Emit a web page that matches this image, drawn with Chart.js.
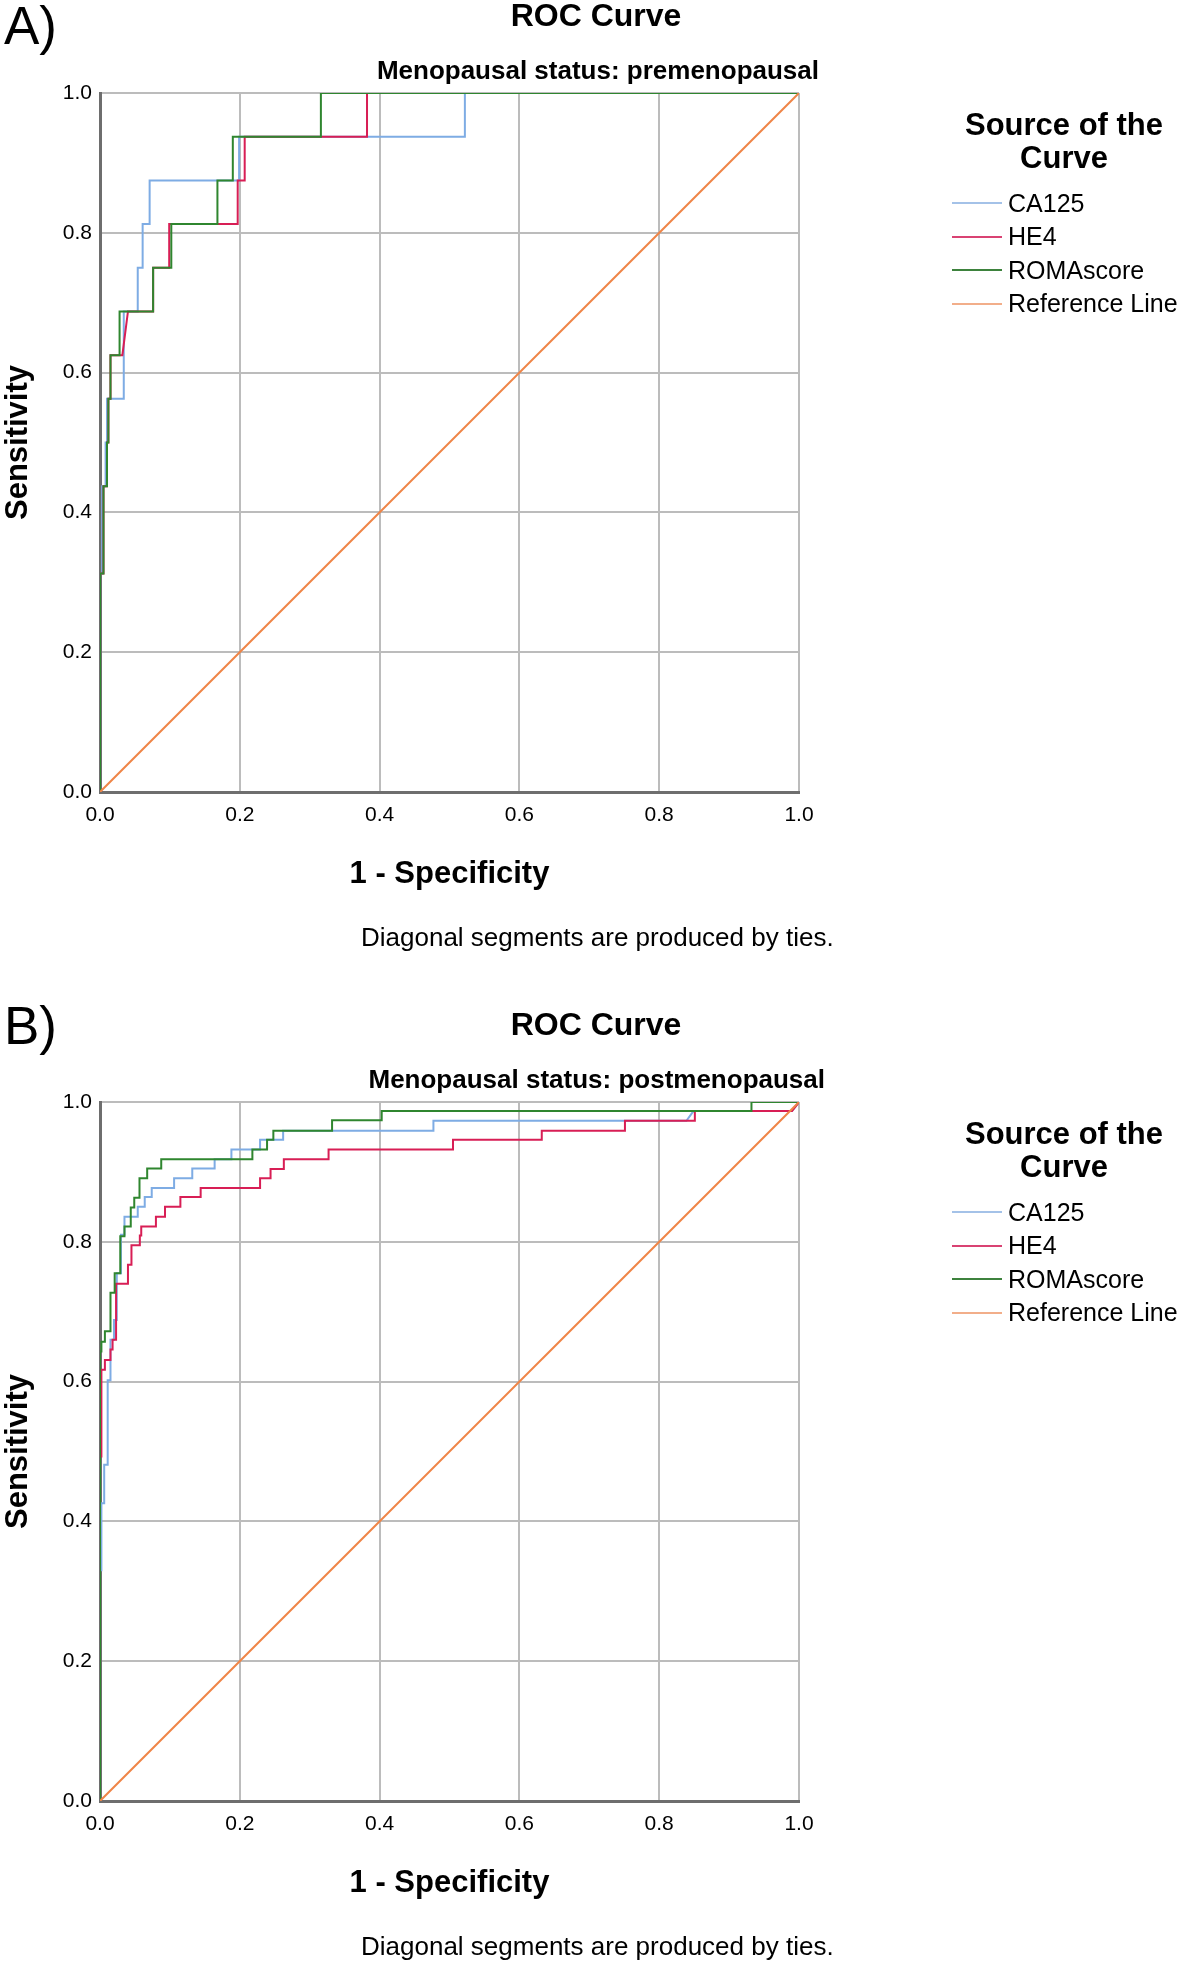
<!DOCTYPE html>
<html>
<head>
<meta charset="utf-8">
<script src="https://cdn.jsdelivr.net/npm/chart.js@4.4.1/dist/chart.umd.min.js"></script>
<style>
    body { margin: 0; background: #fff; }
    #page { position: relative; width: 1180px; height: 1965px; overflow: hidden; font-family: "Liberation Sans", Arial, sans-serif; color: #000; }
    .txt { position: absolute; white-space: nowrap; line-height: 1; }
    .bold { font-weight: bold; }
    .swatch { position: absolute; height: 2px; }
    canvas { position: absolute; left: 0; }
</style>
</head>
<body>
<div id="page">
    <canvas id="chartA" width="1180" height="1010" style="top:0px"></canvas>
    <canvas id="chartB" width="1180" height="956" style="top:1009px"></canvas>
</div>
<script>
// Series names and tick labels
const seriesNames = ['CA125', 'HE4', 'ROMAscore', 'Reference Line'];
const tickValues = [0, 0.2, 0.4, 0.6, 0.8, 1.0];
const tickLabels = ['0.0', '0.2', '0.4', '0.6', '0.8', '1.0'];

// Panel A - premenopausal (x = 1 - specificity, y = sensitivity)
const preCA125X = [0, 0, 0.003, 0.003, 0.008, 0.008, 0.010, 0.010, 0.034, 0.034, 0.054, 0.054, 0.061, 0.061, 0.071, 0.071, 0.199, 0.199, 0.522, 0.522, 1];
const preCA125Y = [0, 0.3125, 0.3125, 0.4375, 0.4375, 0.5, 0.5, 0.5625, 0.5625, 0.6875, 0.6875, 0.75, 0.75, 0.8125, 0.8125, 0.875, 0.875, 0.9375, 0.9375, 1, 1];
const preHE4X = [0, 0, 0.005, 0.005, 0.010, 0.010, 0.012, 0.012, 0.015, 0.015, 0.032, 0.040, 0.076, 0.076, 0.099, 0.099, 0.197, 0.197, 0.207, 0.207, 0.382, 0.382, 1];
const preHE4Y = [0, 0.3125, 0.3125, 0.4375, 0.4375, 0.5, 0.5, 0.5625, 0.5625, 0.625, 0.625, 0.6875, 0.6875, 0.75, 0.75, 0.8125, 0.8125, 0.875, 0.875, 0.9375, 0.9375, 1, 1];
const preROMAX = [0, 0, 0.005, 0.005, 0.010, 0.010, 0.012, 0.012, 0.015, 0.015, 0.028, 0.028, 0.076, 0.076, 0.102, 0.102, 0.168, 0.168, 0.190, 0.190, 0.316, 0.316, 1];
const preROMAY = [0, 0.3125, 0.3125, 0.4375, 0.4375, 0.5, 0.5, 0.5625, 0.5625, 0.625, 0.625, 0.6875, 0.6875, 0.75, 0.75, 0.8125, 0.8125, 0.875, 0.875, 0.9375, 0.9375, 1, 1];

// Panel B - postmenopausal
const postCA125X = [0, 0, 0.002, 0.002, 0.006, 0.006, 0.011, 0.011, 0.015, 0.015, 0.020, 0.020, 0.024, 0.024, 0.030, 0.030, 0.035, 0.035, 0.054, 0.054, 0.064, 0.064, 0.074, 0.074, 0.106, 0.106, 0.132, 0.132, 0.164, 0.164, 0.188, 0.188, 0.229, 0.229, 0.262, 0.262, 0.477, 0.477, 0.839, 0.849, 0.990, 1];
const postCA125Y = [0, 0.330, 0.330, 0.426, 0.426, 0.481, 0.481, 0.602, 0.602, 0.660, 0.660, 0.688, 0.688, 0.755, 0.755, 0.810, 0.810, 0.836, 0.836, 0.850, 0.850, 0.864, 0.864, 0.877, 0.877, 0.891, 0.891, 0.905, 0.905, 0.918, 0.918, 0.932, 0.932, 0.946, 0.946, 0.959, 0.959, 0.973, 0.973, 0.987, 0.987, 1];
const postHE4X = [0, 0, 0.002, 0.002, 0.007, 0.007, 0.015, 0.015, 0.018, 0.018, 0.023, 0.023, 0.040, 0.040, 0.045, 0.045, 0.057, 0.057, 0.059, 0.059, 0.080, 0.080, 0.093, 0.093, 0.115, 0.115, 0.144, 0.144, 0.229, 0.229, 0.244, 0.244, 0.263, 0.263, 0.327, 0.327, 0.505, 0.505, 0.632, 0.632, 0.751, 0.751, 0.851, 0.851, 0.990, 1];
const postHE4Y = [0, 0.493, 0.493, 0.617, 0.617, 0.631, 0.631, 0.646, 0.646, 0.660, 0.660, 0.740, 0.740, 0.767, 0.767, 0.795, 0.795, 0.809, 0.809, 0.822, 0.822, 0.836, 0.836, 0.850, 0.850, 0.864, 0.864, 0.877, 0.877, 0.891, 0.891, 0.904, 0.904, 0.918, 0.918, 0.932, 0.932, 0.946, 0.946, 0.959, 0.959, 0.973, 0.973, 0.987, 0.987, 1];
const postROMAX = [0, 0, 0.002, 0.002, 0.007, 0.007, 0.015, 0.015, 0.021, 0.021, 0.029, 0.029, 0.035, 0.035, 0.044, 0.044, 0.049, 0.049, 0.0565, 0.0565, 0.0675, 0.0675, 0.0876, 0.0876, 0.218, 0.218, 0.239, 0.239, 0.248, 0.248, 0.332, 0.332, 0.403, 0.403, 0.932, 0.932, 1];
const postROMAY = [0, 0.643, 0.643, 0.657, 0.657, 0.672, 0.672, 0.727, 0.727, 0.755, 0.755, 0.808, 0.808, 0.822, 0.822, 0.849, 0.849, 0.863, 0.863, 0.891, 0.891, 0.905, 0.905, 0.918, 0.918, 0.932, 0.932, 0.946, 0.946, 0.959, 0.959, 0.974, 0.974, 0.987, 0.987, 1, 1];

// Reference diagonal
const refX = [0, 1];
const refY = [0, 1];

const colors = ['#7eacE4', '#d81e55', '#2f862f', '#ef8547'];
const legendColors = ['#a4c2e8', '#d94373', '#3d823d', '#f2ae8a'];

// x axis box height (tick labels + title)
const xAxisHeight = 101;

// Turn x/y arrays into points
const toPoints = (xs, ys) => xs.map((x, i) => ({ x: x, y: ys[i] }));

const makeChart = (canvasId, curves) => {
    const canvas = document.getElementById(canvasId);
    const datasets = curves.map((c, i) => ({
        label: seriesNames[i],
        data: toPoints(c[0], c[1]),
        borderColor: colors[i],
        borderWidth: 2,
        pointRadius: 0,
        tension: 0,
        fill: false,
        // green on top of red on top of blue, diagonal above all
        order: [3, 2, 1, 0][i]
    }));

    return new Chart(canvas.getContext('2d'), {
        type: 'line',
        data: { datasets: datasets },
        options: {
            responsive: false,
            animation: false,
            layout: { padding: { left: 0, top: 93, right: 381, bottom: canvas.height - 792 - xAxisHeight } },
            plugins: { legend: { display: false }, tooltip: { enabled: false } },
            scales: {
                x: {
                    type: 'linear', min: 0, max: 1,
                    afterBuildTicks: (s) => { s.ticks = tickValues.map(v => ({ value: v })); },
                    ticks: { callback: (v) => tickLabels[tickValues.indexOf(v)] ?? v.toFixed(1), font: { size: 21 }, color: '#000', padding: 11, maxRotation: 0 },
                    grid: { color: '#bcbcbc', lineWidth: 2, drawTicks: false },
                    border: { color: '#6e6e6e', width: 3 },
                    title: { display: true, text: '1 - Specificity', font: { size: 31, weight: 'bold' }, color: '#000', padding: 0 },
                    afterFit: (s) => { s.height = xAxisHeight; }
                },
                y: {
                    type: 'linear', min: 0, max: 1,
                    afterBuildTicks: (s) => { s.ticks = tickValues.map(v => ({ value: v })); },
                    ticks: { callback: (v) => tickLabels[tickValues.indexOf(v)] ?? v.toFixed(1), font: { size: 21 }, color: '#000', padding: 8 },
                    grid: { color: '#bcbcbc', lineWidth: 2, drawTicks: false },
                    border: { color: '#6e6e6e', width: 3 },
                    title: { display: true, text: 'Sensitivity', font: { size: 31, weight: 'bold' }, color: '#000', padding: 0 },
                    afterFit: (s) => { s.width = 100; }
                }
            }
        }
    });
};

Chart.defaults.font.family = '"Liberation Sans", Arial, sans-serif';

makeChart('chartA', [[preCA125X, preCA125Y], [preHE4X, preHE4Y], [preROMAX, preROMAY], [refX, refY]]);
makeChart('chartB', [[postCA125X, postCA125Y], [postHE4X, postHE4Y], [postROMAX, postROMAY], [refX, refY]]);

// Titles, legend and notes as page text
const page = document.getElementById('page');
const addText = (text, css, bold) => {
    const d = document.createElement('div');
    d.className = 'txt' + (bold ? ' bold' : '');
    d.textContent = text;
    Object.assign(d.style, css);
    page.appendChild(d);
    return d;
};

const addPanelText = (letter, letterTop, subtitle, subRight, off) => {
    addText(letter, { left: '4px', top: letterTop + 'px', fontSize: '53px' });
    addText('ROC Curve', { left: '596px', top: (off - 1) + 'px', fontSize: '32px', transform: 'translateX(-50%)' }, true);
    addText(subtitle, { right: (1180 - subRight) + 'px', top: (off + 57) + 'px', fontSize: '26px' }, true);
    addText('Source of the', { left: '1064px', top: (off + 109) + 'px', fontSize: '31px', transform: 'translateX(-50%)' }, true);
    addText('Curve', { left: '1064px', top: (off + 142) + 'px', fontSize: '31px', transform: 'translateX(-50%)' }, true);
    seriesNames.forEach((name, i) => {
        const cy = off + 203 + i * 33.5;
        const sw = document.createElement('div');
        sw.className = 'swatch';
        Object.assign(sw.style, { left: '952px', width: '50px', top: (cy - 1) + 'px', background: legendColors[i] });
        page.appendChild(sw);
        addText(name, { left: '1008px', top: (cy - 12.5) + 'px', fontSize: '25px' });
    });
    addText('Diagonal segments are produced by ties.', { left: '361px', top: (off + 924) + 'px', fontSize: '26px' });
};

addPanelText('A)', -1, 'Menopausal status: premenopausal', 819, 0);
addPanelText('B)', 999, 'Menopausal status: postmenopausal', 825, 1009);
</script>
</body>
</html>
